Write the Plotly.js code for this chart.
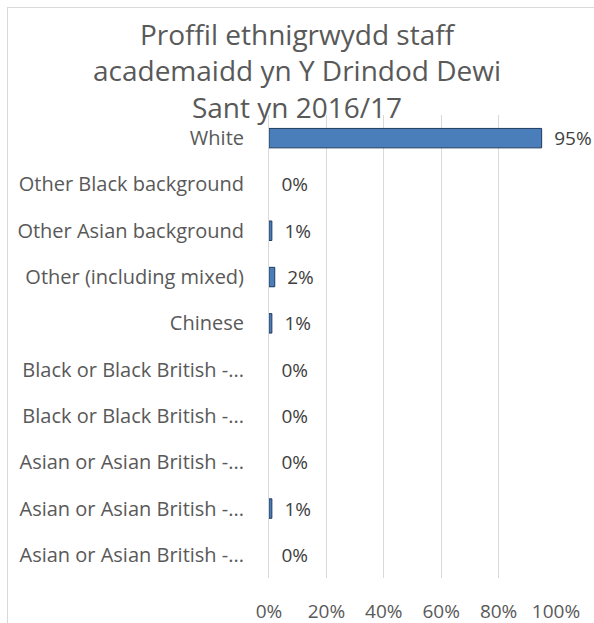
<!DOCTYPE html>
<html>
<head>
<meta charset="utf-8">
<script src="https://cdn.plot.ly/plotly-3.0.1.min.js"></script>
<style>
html,body{margin:0;padding:0;background:#fff;}
#wrap{position:relative;width:594px;height:623px;}
#frame{position:absolute;left:7px;top:7px;width:700px;height:700px;border-left:1px solid #d9d9d9;border-top:1px solid #d9d9d9;pointer-events:none;}
#chart{position:absolute;left:0;top:0;width:594px;height:623px;}
</style>
</head>
<body>
<div id="wrap"><div id="chart"></div><div id="frame"></div></div>
<script>
const titleText = "Proffil ethnigrwydd staff<br>academaidd yn Y Drindod Dewi<br>Sant yn 2016/17";
// zero-width spaces keep the repeated truncated labels distinct
const categories = [
  "White",
  "Other Black background",
  "Other Asian background",
  "Other (including mixed)",
  "Chinese",
  "Black or Black British -...",
  "Black or Black British -...\u200b",
  "Asian or Asian British -...",
  "Asian or Asian British -...\u200b",
  "Asian or Asian British -...\u200b\u200b"
];
const values = [0.95, 0.0, 0.01, 0.02, 0.01, 0.0, 0.0, 0.0, 0.01, 0.0];
const tickVals = [0, 0.2, 0.4, 0.6, 0.8, 1.0];
const tickText = ["0%", "20%", "40%", "60%", "80%", "100%"];

const fontFam = "Open Sans, sans-serif";
const txtCol = "#595959";

Plotly.newPlot("chart", [{
  type: "bar",
  orientation: "h",
  y: categories,
  x: values,
  marker: {color: "#4a7ebb", line: {color: "#1f3a5f", width: values.map(v => v > 0 ? 1 : 0)}},
  text: values.map(v => "\u2002" + Math.round(v*100) + "%"),
  textposition: "outside",
  constraintext: "none",
  cliponaxis: false,
  textfont: {family: fontFam, size: 19, color: "#404040"},
  hoverinfo: "none"
}], {
  width: 594, height: 623,
  margin: {l: 269, r: 38, t: 115, b: 45},
  paper_bgcolor: "rgba(0,0,0,0)",
  plot_bgcolor: "#fff",
  bargap: 0.58,
  showlegend: false,
  title: {
    text: titleText,
    font: {family: fontFam, size: 28, color: txtCol},
    x: 0.5, xref: "container", xanchor: "center",
    y: 1 - 45/623, yref: "container", yanchor: "middle"
  },
  xaxis: {
    range: [0, 1],
    tickvals: tickVals,
    ticktext: tickText,
    showgrid: true,
    gridcolor: "#d9d9d9",
    gridwidth: 1,
    zeroline: false,
    showline: false,
    ticks: "",
    ticklabelstandoff: 20,
    tickfont: {family: fontFam, size: 19, color: txtCol},
    fixedrange: true
  },
  yaxis: {
    autorange: "reversed",
    showline: true,
    linecolor: "#d9d9d9",
    linewidth: 1,
    showgrid: false,
    zeroline: false,
    ticks: "",
    ticklabelstandoff: 20,
    tickfont: {family: fontFam, size: 20, color: txtCol},
    fixedrange: true
  }
}, {displayModeBar: false, staticPlot: true});
</script>
</body>
</html>
